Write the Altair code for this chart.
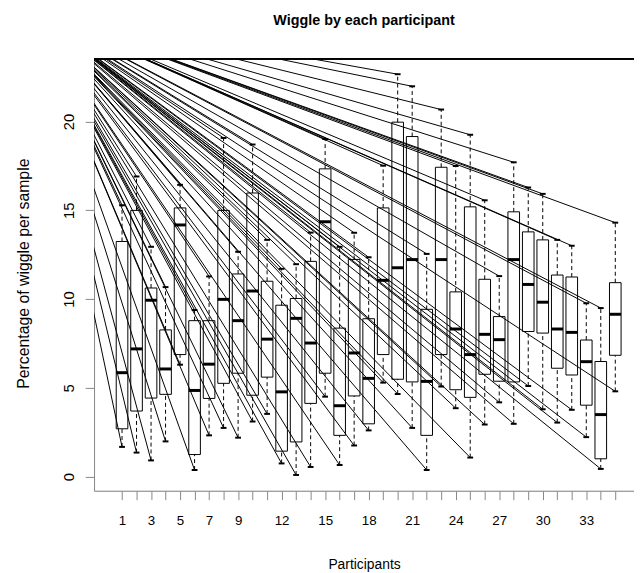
import altair as alt
import pandas as pd

# ---------------- data ----------------
participants = list(range(1, 36))
shown_labels = [1, 3, 5, 7, 9, 12, 15, 18, 21, 24, 27, 30, 33]
y_ticks = [0, 5, 10, 15, 20]

upper_whisker = [15.28, 16.90, 12.94, 10.67, 16.43, 9.38, 11.27, 19.07, 12.66, 18.70,
                 13.33, 11.70, 11.96, 13.74, 19.01, 12.94, 13.73, 12.35, 17.51, 22.66,
                 21.98, 12.54, 20.67, 17.49, 19.25, 15.56, 11.29, 17.70, 16.28, 15.92,
                 13.33, 13.00, 9.76, 9.49, 14.30]
q3 = [13.24, 14.99, 10.62, 8.26, 15.13, 8.78, 8.78, 14.99, 11.41, 15.97,
      11.00, 9.65, 10.03, 12.12, 17.33, 8.36, 12.23, 8.89, 15.13, 19.96,
      19.15, 9.42, 17.42, 10.40, 15.19, 11.11, 9.01, 14.91, 13.78, 13.33,
      11.35, 11.24, 7.69, 6.48, 10.92]
median = [5.85, 7.19, 9.93, 6.06, 14.17, 4.85, 6.33, 9.98, 8.78, 10.45,
          7.74, 4.77, 8.91, 7.52, 14.35, 3.99, 6.96, 5.53, 11.05, 11.76,
          12.22, 5.36, 12.22, 8.31, 6.87, 8.01, 7.71, 12.22, 10.82, 9.82,
          8.31, 8.12, 6.47, 3.49, 9.14]
q1 = [2.69, 3.69, 4.42, 4.63, 6.87, 1.24, 4.40, 5.25, 5.82, 4.58,
      5.60, 1.43, 1.95, 4.12, 5.82, 2.32, 4.54, 2.97, 6.87, 5.48,
      5.33, 2.32, 6.87, 4.89, 4.46, 5.76, 5.37, 5.33, 8.17, 8.08,
      6.10, 5.72, 4.02, 1.00, 6.83]
lower_whisker = [1.67, 1.35, 0.91, 1.98, 6.30, 0.37, 2.32, 2.74, 2.19, 3.10,
                 3.53, 0.74, 0.09, 0.54, 4.50, 0.65, 1.75, 2.60, 5.29, 4.65,
                 2.74, 0.37, 5.07, 3.85, 1.07, 2.93, 4.18, 2.97, 5.10, 3.79,
                 3.04, 3.76, 2.22, 0.43, 4.80]

# common start point of the stray straight lines (outside the plot, clipped)
line_origin_x = -5.4
line_origin_y = 26.4

# ---------------- tables ----------------
box_df = pd.DataFrame({
    "p": participants, "lo": lower_whisker, "q1": q1,
    "med": median, "q3": q3, "hi": upper_whisker,
})
fan_df = pd.DataFrame({
    "x0": [line_origin_x] * (2 * len(participants)),
    "y0": [line_origin_y] * (2 * len(participants)),
    "x1": participants + participants,
    "y1": upper_whisker + lower_whisker,
})

# ---------------- layout ----------------
W, H = 546, 437
xs = alt.Scale(domain=[-0.93, 36.29], nice=False, zero=False)
ys = alt.Scale(domain=[-0.80, 23.54], nice=False, zero=False)
FONT = "Liberation Sans"

label_list = ",".join(str(v) for v in shown_labels)
x_axis = alt.Axis(
    values=participants,
    labelExpr=f"indexof([{label_list}], datum.value) >= 0 ? datum.label : ''",
    labelOverlap=False, labelFlush=False,
    tickSize=9, labelPadding=14, labelFontSize=13.5,
    grid=False, title="Participants", titleFontSize=14,
    titleFontWeight="normal", titleY=79, titleBaseline="alphabetic",
)
y_axis = alt.Axis(
    values=y_ticks, labelAngle=270, labelAlign="center",
    labelBaseline="alphabetic", labelPadding=12, labelFontSize=15,
    tickSize=9, grid=False, title="Percentage of wiggle per sample",
    titleFontSize=16, titleFontWeight="normal", titleAngle=270,
    titleX=-71, titleY=217, titleBaseline="middle", titleAlign="center",
)


def X(field):
    return alt.X(field, scale=xs, axis=x_axis)


def Y(field):
    return alt.Y(field, scale=ys, axis=y_axis)


fan = alt.Chart(fan_df).mark_rule(clip=True, color="black", strokeWidth=1).encode(
    x=X("x0:Q"), y=Y("y0:Q"), x2="x1:Q", y2="y1:Q",
)

base = alt.Chart(box_df).transform_calculate(
    bl="datum.p - 0.4", br="datum.p + 0.4",
    cl="datum.p - 0.2", cr="datum.p + 0.2",
)

whisk_up = base.mark_rule(color="black", strokeWidth=1, strokeDash=[4, 3]).encode(
    x=X("p:Q"), y=Y("q3:Q"), y2="hi:Q")
whisk_dn = base.mark_rule(color="black", strokeWidth=1, strokeDash=[4, 3]).encode(
    x=X("p:Q"), y=Y("lo:Q"), y2="q1:Q")
cap_up = base.mark_rule(color="black", strokeWidth=2).encode(
    x=X("cl:Q"), x2="cr:Q", y=Y("hi:Q"))
cap_dn = base.mark_rule(color="black", strokeWidth=2).encode(
    x=X("cl:Q"), x2="cr:Q", y=Y("lo:Q"))
boxes = base.mark_rect(fillOpacity=0, stroke="black", strokeWidth=1).encode(
    x=X("bl:Q"), x2="br:Q", y=Y("q1:Q"), y2="q3:Q")
meds = base.mark_rule(color="black", strokeWidth=3).encode(
    x=X("bl:Q"), x2="br:Q", y=Y("med:Q"))

top_border = alt.Chart(box_df).mark_rule(color="black", strokeWidth=1).encode(
    x=alt.value(0), x2=alt.value(W), y=alt.value(0))

chart = alt.layer(
    fan, whisk_up, whisk_dn, cap_up, cap_dn, boxes, meds, top_border
).properties(
    width=W, height=H,
    title=alt.TitleParams("Wiggle by each participant", font=FONT, fontSize=14.5,
                          fontWeight="bold", anchor="middle", offset=30,
                          color="black"),
    autosize=alt.AutoSizeParams(type="none"),
    padding={"left": 87, "top": 48, "right": 0, "bottom": 80},
).configure_view(stroke=None).configure_axis(
    labelFont=FONT, titleFont=FONT, labelColor="black", titleColor="black",
    tickColor="black", domainColor="black", domainWidth=1, tickWidth=1,
).configure(background="white")

chart.save("out.html", embed_options={"renderer": "svg", "actions": False})
